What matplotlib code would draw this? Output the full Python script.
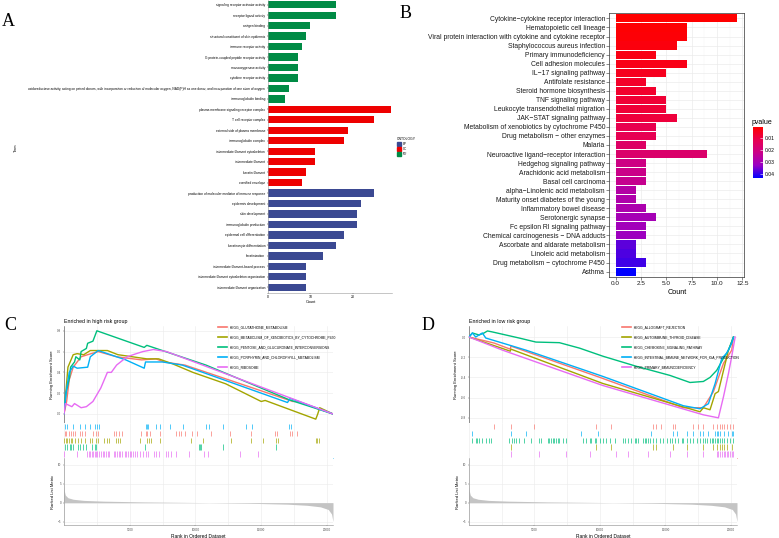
import numpy as np
import matplotlib.pyplot as plt
from matplotlib.colors import LinearSegmentedColormap, Normalize
from matplotlib.cm import ScalarMappable
from matplotlib.lines import Line2D
from matplotlib.patches import Rectangle

plt.rcParams['font.family'] = ['Liberation Sans', 'DejaVu Sans']

# ---------------- data: panel A (GO) ----------------
go_terms = [
    "signaling receptor activator activity", "receptor ligand activity", "antigen binding",
    "structural constituent of skin epidermis", "immune receptor activity",
    "G protein-coupled peptide receptor activity", "monooxygenase activity",
    "cytokine receptor activity",
    "oxidoreductase activity, acting on paired donors, with incorporation or reduction of molecular oxygen, "
    "NAD(P)H as one donor, and incorporation of one atom of oxygen",
    "immunoglobulin binding",
    "plasma membrane signaling receptor complex", "T cell receptor complex",
    "external side of plasma membrane", "immunoglobulin complex",
    "intermediate filament cytoskeleton", "intermediate filament", "keratin filament",
    "cornified envelope",
    "production of molecular mediator of immune response", "epidermis development",
    "skin development", "immunoglobulin production", "epidermal cell differentiation",
    "keratinocyte differentiation", "keratinization", "intermediate filament-based process",
    "intermediate filament cytoskeleton organization", "intermediate filament organization",
]
go_counts = [16, 16, 10, 9, 8, 7, 7, 7, 5, 4,
             29, 25, 19, 18, 11, 11, 9, 8,
             25, 22, 21, 21, 18, 16, 13, 9, 9, 9]
go_ont = ["MF"] * 10 + ["CC"] * 8 + ["BP"] * 10
ont_colors = {"BP": "#3B4992", "CC": "#EE0000", "MF": "#008B45"}

# ---------------- data: panel B (KEGG) ----------------
kegg_terms = [
    "Cytokine−cytokine receptor interaction", "Hematopoietic cell lineage",
    "Viral protein interaction with cytokine and cytokine receptor",
    "Staphylococcus aureus infection", "Primary immunodeficiency", "Cell adhesion molecules",
    "IL−17 signaling pathway", "Antifolate resistance", "Steroid hormone biosynthesis",
    "TNF signaling pathway", "Leukocyte transendothelial migration", "JAK−STAT signaling pathway",
    "Metabolism of xenobiotics by cytochrome P450", "Drug metabolism − other enzymes", "Malaria",
    "Neuroactive ligand−receptor interaction", "Hedgehog signaling pathway",
    "Arachidonic acid metabolism", "Basal cell carcinoma", "alpha−Linolenic acid metabolism",
    "Maturity onset diabetes of the young", "Inflammatory bowel disease", "Serotonergic synapse",
    "Fc epsilon RI signaling pathway", "Chemical carcinogenesis − DNA adducts",
    "Ascorbate and aldarate metabolism", "Linoleic acid metabolism",
    "Drug metabolism − cytochrome P450", "Asthma",
]
kegg_counts = [12, 7, 7, 6, 4, 7, 5, 3, 4, 5, 5, 6, 4, 4, 3, 9, 3, 3, 3, 2, 2, 3, 4, 3, 3, 2, 2, 3, 2]
kegg_p = [0.0003, 0.0008, 0.0012, 0.0020, 0.0030, 0.0035, 0.0045, 0.0060, 0.0065, 0.0075,
          0.0078, 0.0085, 0.0110, 0.0115, 0.0150, 0.0160, 0.0210, 0.0220, 0.0230, 0.0270,
          0.0280, 0.0285, 0.0300, 0.0310, 0.0320, 0.0370, 0.0380, 0.0390, 0.0435]

# ---------------- data: panels C / D (GSEA) ----------------
n_genes = 20460
gsea_cols = ["#F8766D", "#A3A500", "#00BF7D", "#00B0F6", "#E76BF3"]

c_names = ["KEGG_GLUTATHIONE_METABOLISM", "KEGG_METABOLISM_OF_XENOBIOTICS_BY_CYTOCHROME_P450",
           "KEGG_PENTOSE_AND_GLUCURONATE_INTERCONVERSIONS", "KEGG_PORPHYRIN_AND_CHLOROPHYLL_METABOLISM",
           "KEGG_RIBOSOME"]
glut_x = [0, 200, 400, 700, 1000, 1300, 1800, 2600, 4000, 5900, 7000, 7600, 9200, 17400, 17800, 20460]
glut_y = [0, 0.12, 0.33, 0.45, 0.50, 0.55, 0.57, 0.60, 0.55, 0.52, 0.53, 0.50, 0.47, 0.12, 0.12, 0.0]
xeno_x = [0, 100, 300, 700, 1000, 1500, 2000, 3300, 4100, 6300, 7200, 8300, 9800, 12300, 15000,
          15300, 19150, 19300, 19450, 20460]
xeno_y = [0, 0.15, 0.45, 0.57, 0.58, 0.57, 0.61, 0.61, 0.57, 0.53, 0.53, 0.48, 0.40, 0.29, 0.12,
          0.13, -0.05, 0.0, 0.06, 0.0]
pent_x = [0, 150, 420, 500, 800, 900, 1200, 1300, 1700, 1800, 2200, 2500, 6100, 6300, 10800, 17160, 20460]
pent_y = [0, 0.20, 0.35, 0.45, 0.50, 0.55, 0.52, 0.60, 0.63, 0.68, 0.70, 0.80, 0.64, 0.66, 0.47, 0.135, 0.0]
porph_x = [0, 150, 400, 700, 1000, 1800, 2000, 2600, 4700, 6100, 6200, 7500, 9000, 17000, 17200, 20460]
porph_y = [0, 0.20, 0.40, 0.46, 0.44, 0.45, 0.55, 0.61, 0.52, 0.44, 0.50, 0.50, 0.47, 0.11, 0.15, 0.0]
ribo_x = [0, 100, 600, 800, 1300, 1700, 2200, 2800, 3300, 3600, 4000, 4800, 5500, 6000, 6800, 7800, 20460]
ribo_y = [0, 0.10, 0.07, 0.10, 0.06, 0.07, 0.12, 0.25, 0.40, 0.40, 0.47, 0.55, 0.58, 0.60, 0.62, 0.60, 0.0]

glut_hits = [40, 165, 370, 495, 670, 800, 1230, 1380, 1560, 2200, 2450, 2580, 3770, 3920, 4170, 4430,
             5870, 6200, 6300, 6560, 7270, 8540, 8740, 8920, 9170, 9750, 10110, 11200, 12600, 14250,
             16020, 16200, 17160, 17370, 17720]
xeno_hits = [10, 115, 240, 370, 495, 620, 800, 1050, 1310, 1560, 1940, 2140, 2400, 2580, 3030, 3260,
             3460, 3970, 4100, 4230, 5800, 6300, 6460, 6630, 7320, 9680, 10570, 12720, 14250, 15130,
             16100, 16280, 19140, 19270, 19400]
pent_hits = [40, 215, 420, 545, 670, 1050, 1230, 1430, 1640, 2140, 2320, 2450, 6130, 10260, 10360,
             10440, 12090, 16150]
porph_hits = [40, 215, 670, 1180, 1560, 1940, 2320, 2500, 2650, 6200, 6300, 6380, 7020, 7270, 8030,
              9050, 10820, 11020, 12090, 13810, 14320, 17110, 17240]
ribo_hits = [10, 980, 1740, 1890, 1990, 2120, 2200, 2320, 2400, 2500, 2650, 2830, 2960, 3080, 3210,
             3340, 3410, 3770, 3870, 4020, 4170, 4280, 4430, 4610, 4730, 4860, 4990, 5110, 5240, 5370,
             5540, 5800, 6000, 6200, 6380, 6810, 7020, 7220, 7730, 7900, 8160, 8540, 9500, 10620,
             10950, 13360, 14750]

d_names = ["KEGG_ALLOGRAFT_REJECTION", "KEGG_AUTOIMMUNE_THYROID_DISEASE", "KEGG_CHEMOKINE_SIGNALING_PATHWAY",
           "KEGG_INTESTINAL_IMMUNE_NETWORK_FOR_IGA_PRODUCTION", "KEGG_PRIMARY_IMMUNODEFICIENCY"]
allo_x = [0, 1920, 3150, 3200, 10000, 16360, 17890, 18660, 19430, 20060, 20190]
allo_y = [0, -0.06, -0.12, -0.09, -0.40, -0.70, -0.70, -0.54, -0.26, -0.13, 0.0]
thyr_x = [0, 3150, 3200, 10220, 17640, 17890, 18400, 18790, 19040, 19430, 19810, 20190]
thyr_y = [0, -0.14, -0.12, -0.46, -0.74, -0.70, -0.72, -0.56, -0.54, -0.33, -0.13, 0.0]
chem_x = [0, 260, 770, 1150, 1410, 1790, 3830, 5110, 6900, 8440, 10220, 12780, 15340, 16870, 17890,
          18400, 18910, 19430, 19810, 20190]
chem_y = [0, 0.04, 0.02, 0.04, 0.06, 0.05, -0.01, -0.05, -0.056, -0.11, -0.19, -0.29, -0.38, -0.45,
          -0.44, -0.40, -0.33, -0.21, -0.13, 0.0]
iga_x = [0, 260, 510, 1020, 1280, 4350, 10220, 16360, 17640, 18280, 18790, 19300, 19680, 20060, 20190]
iga_y = [0, 0.04, 0.0, 0.04, -0.01, -0.13, -0.39, -0.68, -0.71, -0.66, -0.46, -0.21, -0.16, -0.06, 0.0]
pid_x = [0, 2560, 10220, 17890, 19040, 19430, 19810, 20060, 20320]
pid_y = [0, -0.13, -0.48, -0.77, -0.80, -0.59, -0.36, -0.19, 0.0]

allo_hits = [1920, 3200, 4980, 9710, 10860, 14010, 14310, 14620, 15590, 15720, 17130, 17510, 17890,
             18660, 18910, 19170, 19300, 19430, 19680, 19940, 20190]
thyr_hits = [3200, 9710, 10860, 14010, 14310, 15590, 16610, 17890, 18660, 18910, 19170, 19300, 19430,
             19680, 20060]
chem_hits = [260, 510, 640, 770, 1020, 1280, 1530, 1660, 3070, 3320, 3450, 3580, 3830, 4220, 4730,
             5370, 5500, 6010, 6130, 6260, 6390, 6520, 6650, 6770, 6900, 7160, 7410, 8690, 8950, 9200,
             9330, 9590, 9710, 9970, 10220, 10480, 10740, 11120, 11760, 11890, 12140, 12400, 12650,
             12780, 12910, 13290, 13420, 13550, 13670, 13800, 14060, 14310, 14570, 14820, 15080, 15340,
             15460, 15720, 15980, 16230, 16360, 16610, 16870, 17130, 17380, 17640, 17890, 18020, 18150,
             18400, 18530, 18660, 18790, 18910, 19040, 19170, 19300, 19430, 19680, 19940, 20190]
iga_hits = [260, 3200, 4350, 8560, 9840, 13930, 15540, 15850, 16610, 17130, 17640, 17890, 18280,
            18790, 18910, 19040, 19170, 19430, 19810, 20060, 20190]
pid_hits = [3200, 5370, 7410, 9250, 11250, 12140, 13670, 15340, 16610, 17890, 18910, 19040, 19170,
            19300, 19430, 19550, 19680, 19810, 19940, 20060, 20190]

metric_x = [0, 30, 100, 300, 700, 1500, 3000, 6000, 10000, 14000, 17000, 18500, 19500, 20100, 20350, 20460]
metric_y = [4.5, 3.0, 2.0, 1.3, 0.9, 0.6, 0.4, 0.2, 0.05, -0.15, -0.4, -0.7, -1.1, -1.8, -3.0, -5.0]

# ---------------- figure ----------------
W, H = 779, 538
fig = plt.figure(figsize=(W / 100, H / 100), dpi=100)


def prect(l, t, r, b):
    return [l / W, 1 - b / H, (r - l) / W, (b - t) / H]


def ptxt(x, y, s, **kw):
    fig.text(x / W, 1 - y / H, s, **kw)


serif = dict(family='Liberation Serif', fontsize=13, ha='center', va='center')
ptxt(8, 21, 'A', **serif)
ptxt(406, 13, 'B', **serif)
ptxt(10, 325, 'C', **serif)
ptxt(428, 325, 'D', **serif)

# ---- panel A ----
axA = fig.add_axes(prect(268, 0, 392, 293))
nA = len(go_terms)
axA.barh(np.arange(nA), go_counts, height=0.7, color=[ont_colors[o] for o in go_ont])
axA.set_ylim(nA - 0.45, -0.45)
axA.set_xlim(0, 29.3)
axA.set_yticks(np.arange(nA))
axA.set_yticklabels(go_terms, fontsize=2.3)
axA.set_xticks([0, 10, 20])
axA.tick_params(axis='x', labelsize=2.5, length=1, width=0.3, pad=0.5)
axA.tick_params(axis='y', length=1, width=0.3, pad=1)
for s in ['top', 'right']:
    axA.spines[s].set_visible(False)
for s in ['left', 'bottom']:
    axA.spines[s].set_color('#999999')
    axA.spines[s].set_linewidth(0.4)
ptxt(311, 302, 'Count', fontsize=2.8, ha='center', va='center')
ptxt(16, 148, 'Term', fontsize=2.8, rotation=90, ha='center', va='center')
ptxt(397, 139, 'ONTOLOGY', fontsize=2.4, ha='left', va='center')
for i, o in enumerate(["BP", "CC", "MF"]):
    y = 144 + 5 * i
    fig.add_artist(Rectangle((397 / W, 1 - (y + 2) / H), 4 / W, 4 / H,
                             color=ont_colors[o], transform=fig.transFigure))
    ptxt(403, y, o, fontsize=2.2, ha='left', va='center')

# ---- panel B ----
cmap = LinearSegmentedColormap.from_list(
    'pv', [(0, '#FF0000'), (0.25, '#E80050'), (0.5, '#CA0088'), (0.75, '#9A00C3'), (1, '#0000FF')])
norm = Normalize(vmin=min(kegg_p), vmax=max(kegg_p))
axB = fig.add_axes(prect(609, 13, 744, 277))
nB = len(kegg_terms)
axB.barh(np.arange(nB), kegg_counts, height=0.9, color=cmap(norm(np.array(kegg_p))))
axB.set_ylim(nB - 0.4, -0.6)
axB.set_xlim(-0.66, 12.66)
axB.set_yticks(np.arange(nB))
axB.set_yticklabels(kegg_terms, fontsize=4.9, color='#1a1a1a')
axB.set_xticks([0, 2.5, 5, 7.5, 10, 12.5])
axB.set_xticklabels(['0.0', '2.5', '5.0', '7.5', '10.0', '12.5'], fontsize=4.6, color='#1a1a1a')
axB.set_xticks([1.25, 3.75, 6.25, 8.75, 11.25], minor=True)
axB.tick_params(which='major', length=2, width=0.4, color='#333333', pad=0.8)
axB.tick_params(which='minor', length=0)
axB.grid(which='major', color='#EBEBEB', lw=0.5)
axB.grid(which='minor', axis='x', color='#F4F4F4', lw=0.3)
axB.set_axisbelow(True)
for s in axB.spines.values():
    s.set_color('#333333')
    s.set_linewidth(0.5)
ptxt(677, 292, 'Count', fontsize=5.2, ha='center', va='center')
cax = fig.add_axes(prect(753, 127, 763, 178))
cb = fig.colorbar(ScalarMappable(norm=norm, cmap=cmap), cax=cax, ticks=[0.01, 0.02, 0.03, 0.04])
cb.outline.set_visible(False)
cax.invert_yaxis()
cax.tick_params(labelsize=3.6, length=2, width=0.4, color='white', pad=1.5, direction='in')
ptxt(752, 122, 'pvalue', fontsize=5, ha='left', va='center')


# ---- panels C / D ----
def gsea_panel(left, right, title, names, xs, ys, hits, row_order,
               es_lim, es_ticks, es_labels, base_col, leg_x):
    es = fig.add_axes(prect(left, 326, right, 423))
    ht = fig.add_axes(prect(left, 423, right, 458))
    rk = fig.add_axes(prect(left, 458, right, 525))
    vgrid = np.arange(0, n_genes, 2500)
    for ax in (es, ht, rk):
        ax.set_xlim(0, n_genes)
        for v in vgrid:
            ax.axvline(v, color='#EBEBEB', lw=0.4, zorder=0)
        for s in ['top', 'right']:
            ax.spines[s].set_visible(False)
    for t in es_ticks:
        es.axhline(t, color='#EBEBEB', lw=0.4, zorder=0)
    for i in range(5):
        es.plot(xs[i], ys[i], color=gsea_cols[i], lw=1.0, zorder=3)
    es.set_ylim(*es_lim)
    es.set_yticks(es_ticks)
    es.set_yticklabels(es_labels)
    es.set_xticks([])
    es.spines['bottom'].set_visible(False)
    es.spines['left'].set_color('#444444')
    es.spines['left'].set_linewidth(0.4)
    es.tick_params(labelsize=2.2, length=1, width=0.3, pad=1, colors='#4d4d4d')
    es.set_ylabel('Running Enrichment Score', fontsize=3, labelpad=2)
    es.set_title(title, fontsize=3.8, loc='left', pad=2)

    for row, i in enumerate(row_order):
        y0 = 4 - row
        ht.vlines(hits[i], y0 + 0.1, y0 + 0.9, color=gsea_cols[i], lw=0.6, alpha=0.8)
    ht.set_ylim(-0.05, 5)
    ht.set_xticks([])
    ht.set_yticks([])
    ht.spines['left'].set_visible(False)
    ht.spines['bottom'].set_color(base_col)
    ht.spines['bottom'].set_linewidth(0.6)

    for t in [-5, 0, 5, 10]:
        rk.axhline(t, color='#EBEBEB', lw=0.4, zorder=0)
    rk.fill_between(metric_x, metric_y, 0, color='#C4C4C4', lw=0)
    rk.set_ylim(-5.9, 11.8)
    rk.set_yticks([-5, 0, 5, 10])
    rk.set_xticks([5000, 10000, 15000, 20000])
    rk.tick_params(labelsize=2.2, length=1, width=0.3, pad=1, colors='#4d4d4d')
    for s in ['left', 'bottom']:
        rk.spines[s].set_color('#888888')
        rk.spines[s].set_linewidth(0.4)
    rk.set_ylabel('Ranked List Metric', fontsize=3, labelpad=2)
    rk.set_xlabel('Rank in Ordered Dataset', fontsize=3.5, labelpad=1.5)

    for i, nm in enumerate(names):
        y = 327 + 10 * i
        fig.add_artist(Line2D([leg_x / W, (leg_x + 9) / W], [1 - y / H] * 2,
                              color=gsea_cols[i], lw=1.2, transform=fig.transFigure))
        ptxt(leg_x + 12, y, nm, fontsize=2.4, ha='left', va='center')


gsea_panel(64, 333, 'Enriched in high risk group', c_names,
           [glut_x, xeno_x, pent_x, porph_x, ribo_x],
           [glut_y, xeno_y, pent_y, porph_y, ribo_y],
           [glut_hits, xeno_hits, pent_hits, porph_hits, ribo_hits],
           [3, 0, 1, 2, 4], (-0.087, 0.846), [0, 0.2, 0.4, 0.6, 0.8],
           ['0.0', '0.2', '0.4', '0.6', '0.8'], '#7FD3F7', 218)

gsea_panel(469, 737, 'Enriched in low risk group', d_names,
           [allo_x, thyr_x, chem_x, iga_x, pid_x],
           [allo_y, thyr_y, chem_y, iga_y, pid_y],
           [allo_hits, thyr_hits, chem_hits, iga_hits, pid_hits],
           [0, 3, 2, 1, 4], (-0.851, 0.109), [-0.8, -0.6, -0.4, -0.2, 0.0],
           ['-0.8', '-0.6', '-0.4', '-0.2', '0.0'], '#F4A7A1', 622)

fig.savefig('out.png', dpi=100)
